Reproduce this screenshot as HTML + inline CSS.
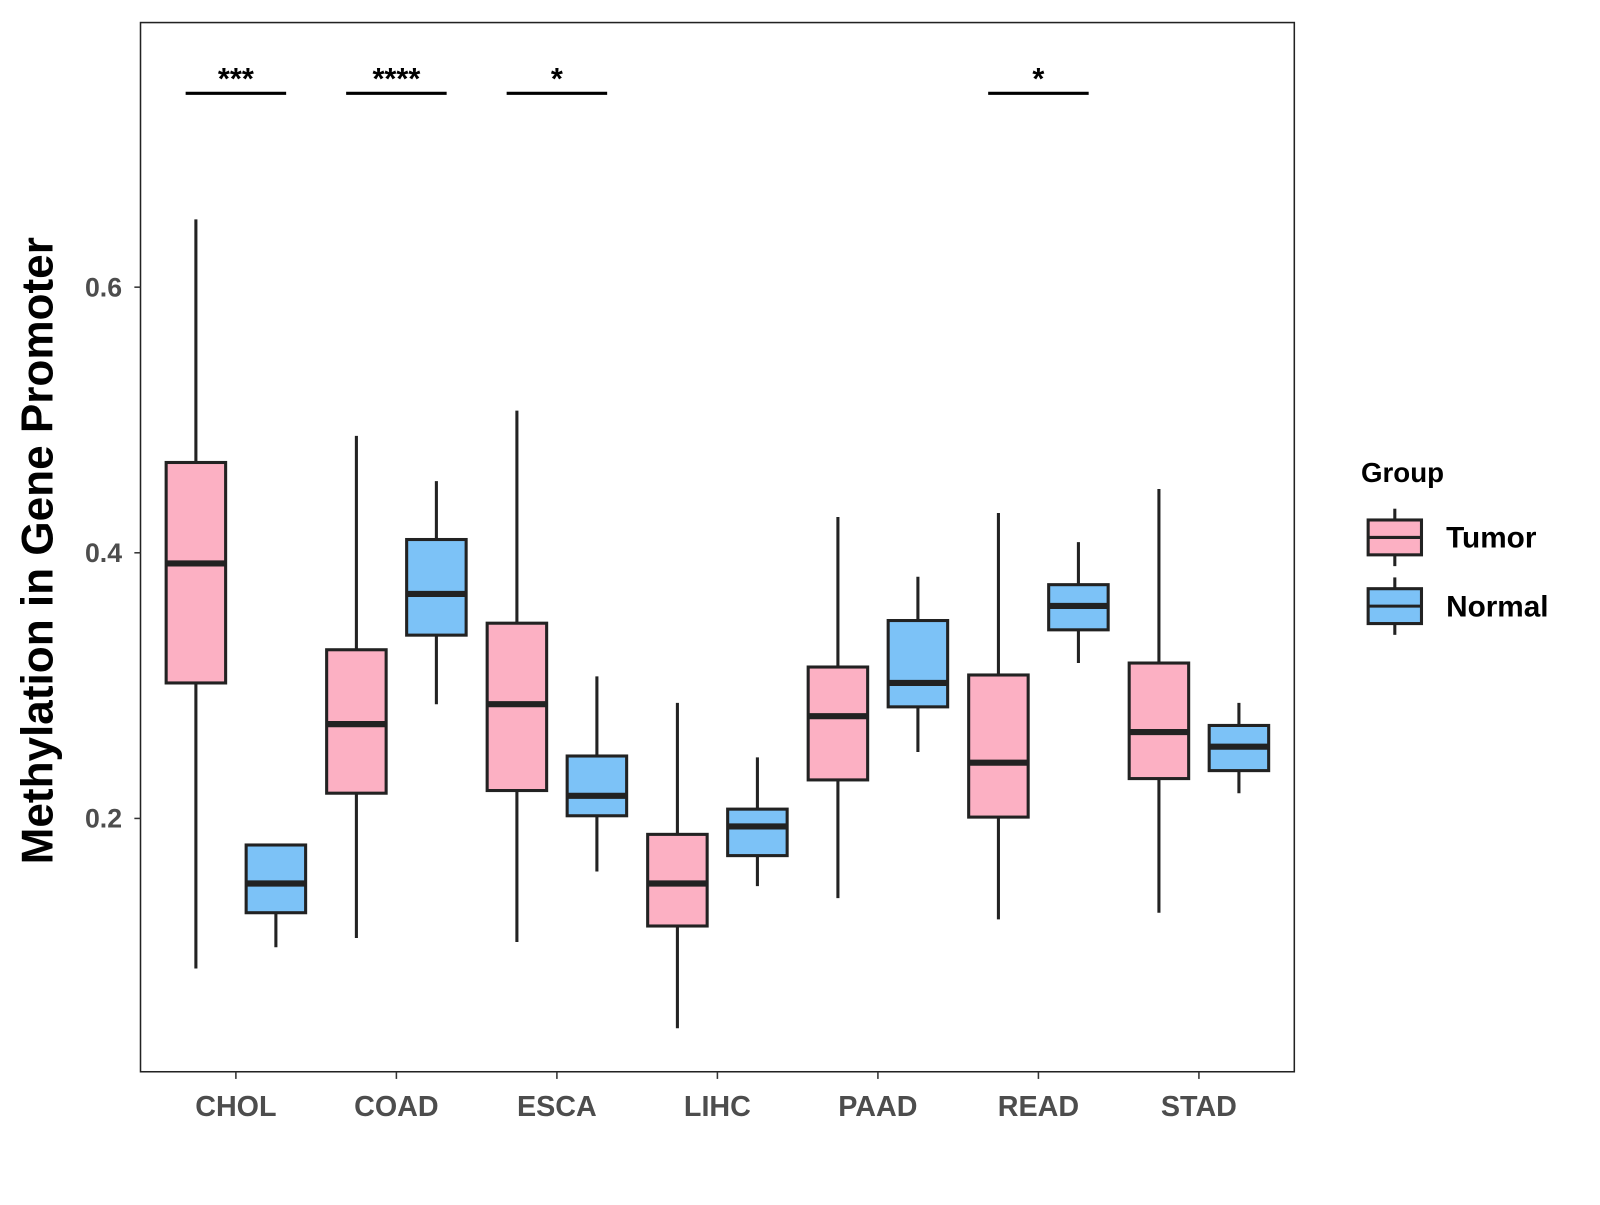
<!DOCTYPE html>
<html><head><meta charset="utf-8"><style>
body{margin:0;background:#fff}
svg text{font-family:"Liberation Sans",Arial,sans-serif;font-weight:bold}
</style></head><body>
<svg id="chart" width="1600" height="1200" xmlns="http://www.w3.org/2000/svg">
<rect x="0" y="0" width="1600" height="1200" fill="#fff"/>
<g id="plot" transform="scale(1.0256)"></g>
</svg>
<script>
const categories=["CHOL","COAD","ESCA","LIHC","PAAD","READ","STAD"];
// [lowWhisker, q1, median, q3, highWhisker]
const tumor=[[0.087,0.302,0.392,0.468,0.651],[0.110,0.219,0.271,0.327,0.488],[0.107,0.221,0.286,0.347,0.507],[0.042,0.119,0.151,0.188,0.287],[0.140,0.229,0.277,0.314,0.427],[0.124,0.201,0.242,0.308,0.430],[0.129,0.230,0.265,0.317,0.448]];
const normal=[[0.103,0.129,0.151,0.180,0.181],[0.286,0.338,0.369,0.410,0.454],[0.160,0.202,0.217,0.247,0.307],[0.149,0.172,0.194,0.207,0.246],[0.250,0.284,0.302,0.349,0.382],[0.317,0.342,0.360,0.376,0.408],[0.219,0.236,0.254,0.270,0.287]];
const signif=["***","****","*","","","*",""];
const yTicks=[0.2,0.4,0.6];
const ns="http://www.w3.org/2000/svg";
const g=document.getElementById('plot');
const PL=137,PR=1262,PT=22,PB=1045;
function y(v){return 798-(v-0.2)*1295;}
function x(i){return 230+i*156.5;}
function mk(t,a,p){const e=document.createElementNS(ns,t);for(const k in a)e.setAttribute(k,a[k]);(p||g).appendChild(e);return e;}
const frame=mk('rect',{x:PL,y:PT,width:PR-PL,height:PB-PT,fill:'none',stroke:'#222','stroke-width':1.5});


yTicks.forEach(t=>{
  mk('line',{x1:PL-6,x2:PL,y1:y(t),y2:y(t),stroke:'#333','stroke-width':1.5});
  const tx=mk('text',{x:PL-18,y:y(t)+9,'text-anchor':'end','font-size':26,fill:'#4d4d4d'});
  tx.textContent=t.toFixed(1);
  
  
});
categories.forEach((c,i)=>{
  mk('line',{x1:x(i),x2:x(i),y1:PB,y2:PB+7,stroke:'#333','stroke-width':1.5});
  const tx=mk('text',{x:x(i),y:1088,'text-anchor':'middle','font-size':28,fill:'#4d4d4d'});
  tx.textContent=c;
  
  
});
function box(d,cx,fill,name){
  const gr=mk('g',{});
  
  
  const w=58;
  mk('line',{x1:cx,x2:cx,y1:y(d[4]),y2:y(d[0]),stroke:'#222','stroke-width':3},gr);
  mk('rect',{x:cx-w/2,y:y(d[3]),width:w,height:y(d[1])-y(d[3]),fill:fill,stroke:'#222','stroke-width':3},gr);
  mk('line',{x1:cx-w/2,x2:cx+w/2,y1:y(d[2]),y2:y(d[2]),stroke:'#222','stroke-width':6},gr);
}
categories.forEach((c,i)=>{
  box(tumor[i],x(i)-39,'#FCB0C3','box-tumor-'+c.toLowerCase());
  box(normal[i],x(i)+39,'#7CC2F7','box-normal-'+c.toLowerCase());
  if(signif[i]){
    mk('line',{x1:x(i)-49,x2:x(i)+49,y1:91,y2:91,stroke:'#000','stroke-width':3});
    const tx=mk('text',{x:x(i),y:87,'text-anchor':'middle','font-size':30,fill:'#000'});
    tx.textContent=signif[i];
    
    
  }
});
const yt=mk('text',{x:0,y:0,'text-anchor':'middle','font-size':43,fill:'#000',transform:'translate(51,537) rotate(-90)'});
yt.textContent='Methylation in Gene Promoter';


const lt=mk('text',{x:1327,y:470,'font-size':27,fill:'#000'});
lt.textContent='Group';


[['Tumor','#FCB0C3',524],['Normal','#7CC2F7',591]].forEach(([n,f,cy])=>{
  const le=mk('g',{});
  
  
  mk('line',{x1:1360,x2:1360,y1:cy-28,y2:cy+28,stroke:'#222','stroke-width':3},le);
  mk('rect',{x:1334,y:cy-17,width:52,height:34,fill:f,stroke:'#222','stroke-width':3},le);
  mk('line',{x1:1334,x2:1386,y1:cy,y2:cy,stroke:'#222','stroke-width':3},le);
  const tx=mk('text',{x:1410,y:cy+10,'font-size':29,fill:'#000'},le);
  tx.textContent=n;
});
</script>
</body></html>
